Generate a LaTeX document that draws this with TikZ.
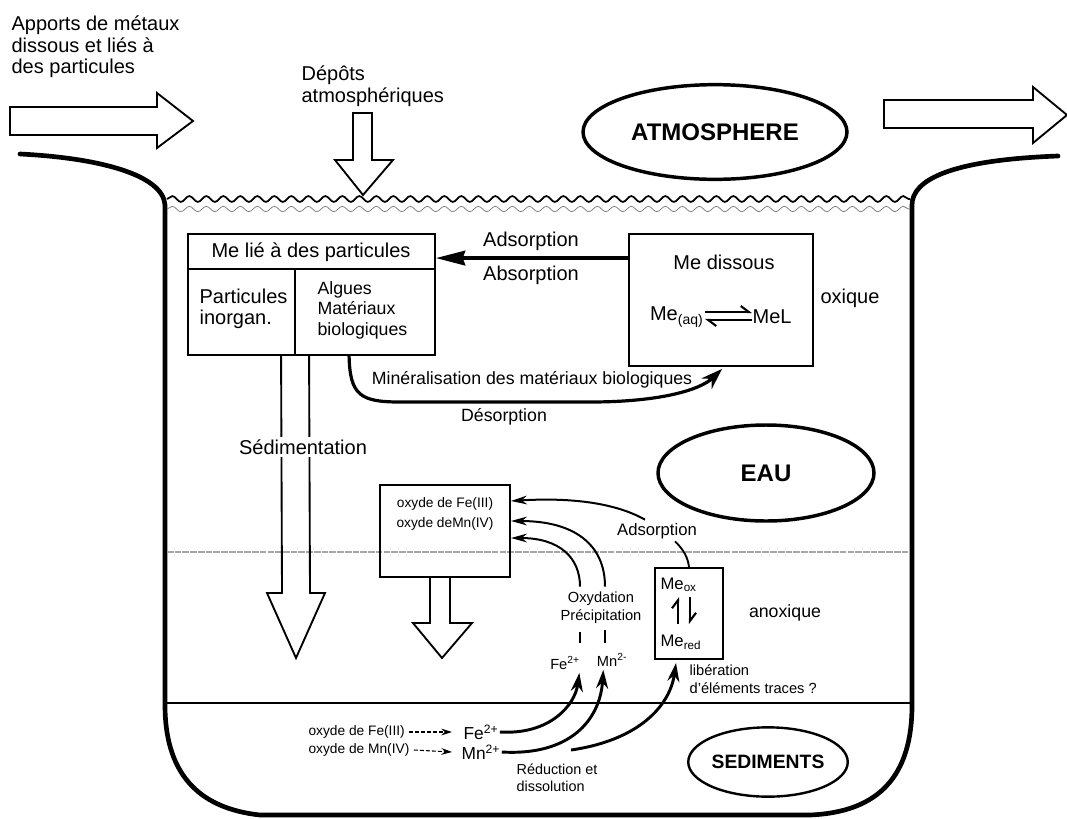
\documentclass[tikz,border=0pt]{standalone}
\usepackage{fontspec}
\setmainfont{Liberation Sans}
\usetikzlibrary{arrows.meta,shapes.geometric,decorations.pathmorphing,calc}

\tikzset{
  vessel/.style={line width=3.5pt, line join=round, line cap=round},
  box/.style={draw, line width=1.4pt, inner sep=0pt},
  txt/.style={inner sep=1pt},
  bigtxt/.style={txt, font=\fontsize{15}{16.2}\selectfont},
  midtxt/.style={txt, font=\fontsize{13.3}{15.4}\selectfont},
  smalltxt/.style={txt, font=\fontsize{11}{13.5}\selectfont},
  tinytxt/.style={txt, font=\fontsize{10.3}{15}\selectfont},
  zone/.style={draw, ellipse, line width=2.6pt, inner sep=0pt,
    font=\bfseries\fontsize{18}{20}\selectfont},
  hollow/.style={draw, line width=1.4pt, line join=miter, fill=white},
  openarrow/.style={draw, line width=1.4pt, line join=miter},
  mainflow/.style={line width=2.2pt, -{Stealth[length=14pt,width=9pt]}},
  thinflow/.style={line width=1.5pt, -{Stealth[length=12pt,width=6.5pt]}},
  harp/.style={line width=1.6pt, -{Straight Barb[left,length=6pt,width=9pt]}},
}

\begin{document}
\begin{tikzpicture}[x=0.75pt,y=-0.75pt]
\useasboundingbox (0,0) rectangle (1067,818);

% basin outline with its two rims
\draw[vessel] (20,154) .. controls (100,158) and (163,175) .. (165,205)
  -- (165,705) .. controls (165,770) and (195,808) .. (260,815)
  -- (810,815) .. controls (880,812) and (912,775) .. (912,705)
  -- (912,205) .. controls (912,180) and (950,160) .. (1058,156);

% water surface
\draw[line width=1.3pt, decorate, decoration={snake, amplitude=2.2pt, segment length=12.75pt}]
  (167,199) -- (910,199);
\draw[gray, line width=0.6pt, decorate, decoration={snake, amplitude=2pt, segment length=12.75pt}]
  (167,209) -- (910,209);

% oxic / anoxic limit and sediment surface
\draw[gray!70, line width=0.9pt, dash pattern=on 5pt off 0.8pt] (167,552) -- (910,552);
\draw[line width=1.5pt] (165,703) -- (912,703);

% inflow, outflow and atmospheric deposition
\draw[hollow] (10,107) -- (157,107) -- (157,93) -- (193,121) -- (157,148) -- (157,135) -- (10,135) -- cycle;
\draw[hollow] (884,100) -- (1033,100) -- (1033,87) -- (1067,115) -- (1033,143) -- (1033,128) -- (884,128) -- cycle;
\draw[hollow] (353,113) -- (372,113) -- (372,160) -- (393,160) -- (363,195) -- (335,160) -- (353,160) -- cycle;

\node[bigtxt, align=left, anchor=west] (apports) at (10,47) {Apports de métaux\\dissous et liés à\\des particules};
\node[bigtxt, align=left, anchor=west] (depots) at (300,86) {Dépôts\\atmosphériques};

% compartments
\node[zone, minimum width=198pt, minimum height=71pt] (atm) at (715,132) {ATMOSPHERE};
\node[zone, minimum width=162pt, minimum height=72pt] (eau) at (766,473) {EAU};
\node[zone, line width=1.8pt, font=\bfseries\fontsize{14.5}{16}\selectfont,
  minimum width=118pt, minimum height=52pt] (sed) at (768,762) {SEDIMENTS};

% particulate metal box
\node[box, minimum width=185.25pt, minimum height=90.75pt] (lie) at (311.5,294.5) {};
\draw[line width=1.4pt] ($(lie.north west)+(0,36)$) -- ($(lie.north east)+(0,36)$);
\draw[line width=1.4pt] ($(lie.north west)+(108,36)$) -- ($(lie.south west)+(108,0)$);
\node[bigtxt] (lietitle) at (311,252) {Me lié à des particules};
\node[bigtxt, align=left, anchor=west] (inorg) at (198,309) {Particules\\inorgan.};
\node[midtxt, align=left, anchor=west] (bio) at (316,310) {Algues\\Matériaux\\biologiques};

% dissolved metal box
\node[box, minimum width=138pt, minimum height=99pt] (dissous) at (721,300) {};
\node[bigtxt] (dtitle) at (724,262) {Me dissous};
\node[bigtxt, anchor=east] (meaq) at (705,317) {Me\textsubscript{(aq)}};
\node[bigtxt, anchor=west] (mel) at (751,317) {MeL};
\draw[harp] (705,312) -- (752,312);
\draw[harp] (752,320) -- (705,320);
\node[bigtxt] (oxiq) at (850,298) {oxique};

% sorption
\draw[line width=2.4pt, -{Stealth[length=22pt,width=11pt,inset=2pt]}]
  ($(dissous.north west)+(0,25)$) -- ($(lie.north east)+(0,25)$);
\node[bigtxt] (adsorb) at (531,241) {Adsorption};
\node[bigtxt] (absorb) at (531,275) {Absorption};

% mineralisation / desorption
\draw[line width=2.4pt, -{Stealth[length=16pt,width=11pt]}]
  ($(lie.south west)+(162,0)$) .. controls (350,395) and (360,402) .. (400,402)
  -- (590,402) .. controls (660,402) and (700,390) .. ($(dissous.south west)+(94,2)$);
\node[midtxt] (miner) at (532,380) {Minéralisation des matériaux biologiques};
\node[midtxt] (desorb) at (504,417) {Désorption};

% sedimentation
\draw[openarrow] ($(lie.south west)+(94,0)$) -- (282,593) -- (267,593) -- (296,658)
  -- (325,593) -- (310,593) -- ($(lie.south west)+(122,0)$);
\node[bigtxt, fill=white, inner sep=2pt] (sedim) at (303,447) {Sédimentation};

% Fe / Mn oxides
\node[box, minimum width=97.5pt, minimum height=69pt] (oxyde) at (445,531) {};
\node[tinytxt, align=center] (oxtxt) at (445,514) {oxyde de Fe(III)\\oxyde deMn(IV)};
\draw[openarrow] ($(oxyde.south)+(-15,0)$) -- (430,623) -- (413,623) -- (442,658)
  -- (472,623) -- (450,623) -- ($(oxyde.south)+(5,0)$);

\node[txt, font=\fontsize{12.5}{14}\selectfont] (adsorp2) at (657,531) {Adsorption};
\node[smalltxt, align=center] (oxy) at (601,608) {Oxydation\\Précipitation};
\draw[thinflow] ($(adsorp2.north)+(-12,-2)$) .. controls (610,500) and (560,498) .. ($(oxyde.east)+(0,-30)$);
\draw[thinflow] ($(oxy.north)+(4,-4)$) .. controls (605,545) and (575,521) .. ($(oxyde.east)+(0,-10)$);
\draw[thinflow] ($(oxy.north)+(-21,-4)$) .. controls (580,558) and (560,538) .. ($(oxyde.east)+(0,7)$);
\draw[line width=1.5pt] (580,632) -- (580,643);
\draw[line width=1.5pt] (605,630) -- (605,643);

\node[smalltxt] (feup) at (565,663) {Fe\textsuperscript{2+}};
\node[smalltxt] (mnup) at (612,660) {Mn\textsuperscript{2-}};

% redox box
\node[box, minimum width=51pt, minimum height=68.25pt] (mebox) at (689,613.5) {};
\node[txt, font=\fontsize{12.5}{14}\selectfont, anchor=west] (meox) at (659,585) {Me\textsubscript{ox}};
\node[txt, font=\fontsize{12.5}{14}\selectfont, anchor=west] (mered) at (659,642) {Me\textsubscript{red}};
\draw[harp] (678,624) -- (678,597);
\draw[harp] (690,597) -- (690,624);
\draw[line width=1.4pt] ($(adsorp2.south)+(18,1)$) .. controls (684,550) and (688,558) .. (mebox.north);
\node[midtxt] (anox) at (785,613) {anoxique};
\node[smalltxt, align=left, anchor=west] (liber) at (688,679) {libération\\d'éléments traces ?};

% reduction in the sediment
\node[tinytxt, anchor=west] (oxfe) at (307,732) {oxyde de Fe(III)};
\node[tinytxt, anchor=west] (oxmn) at (307,750) {oxyde de Mn(IV)};
\node[txt, font=\fontsize{13}{15}\selectfont, anchor=west] (fe) at (462,732) {Fe\textsuperscript{2+}};
\node[txt, font=\fontsize{13}{15}\selectfont, anchor=west] (mn) at (460,752) {Mn\textsuperscript{2+}};
\draw[line width=0.8pt, dash pattern=on 3pt off 1.5pt, -{Stealth[length=8pt,width=5pt]}]
  ($(oxfe.east)+(3,0)$) -- ($(fe.west)+(-10,0)$);
\draw[line width=0.8pt, dash pattern=on 3pt off 1.5pt, -{Stealth[length=8pt,width=5pt]}]
  ($(oxmn.east)+(3,0)$) -- ($(mn.west)+(-8,0)$);
\node[txt, font=\fontsize{10.8}{12.8}\selectfont, align=left, anchor=west] (reduc) at (515,778) {Réduction et\\dissolution};

\coordinate (relstart) at (571,750);
\draw[mainflow] (fe.east) .. controls (550,735) and (575,705) .. ($(feup.south east)+(-2,2)$);
\draw[mainflow] (mn.east) .. controls (570,756) and (600,720) .. ($(mnup.south west)+(8,2)$);
\draw[mainflow] (relstart) .. controls (640,740) and (670,705) .. ($(mebox.south)+(-13,3)$);
\end{tikzpicture}
\end{document}
